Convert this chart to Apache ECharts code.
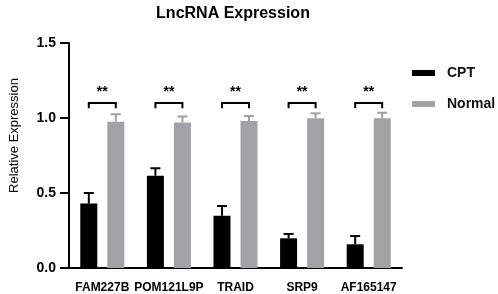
<!DOCTYPE html>
<html>
<head>
<meta charset="utf-8">
<script src="https://cdn.jsdelivr.net/npm/echarts@6/dist/echarts.min.js"></script>
<style>
html,body{margin:0;padding:0;background:#fff;}
#chart{width:498px;height:294px;}
</style>
</head>
<body>
<div id="chart"></div>
<script>
var genes=["FAM227B","POM121L9P","TRAID","SRP9","AF165147"];
var cptMean=[0.43,0.615,0.348,0.198,0.158];
var cptUpper=[0.50,0.665,0.413,0.227,0.213];
var normalMean=[0.975,0.97,0.98,0.998,0.998];
var normalUpper=[1.025,1.01,1.013,1.031,1.035];
var sigLabels=["**","**","**","**","**"];
var bracketTop=1.1;
var bracketLeg=1.065;
var starLevel=1.175;

var font="Liberation Sans, Arial, sans-serif";
var grey="#a2a2a6";
var half=13.5;

var chart=echarts.init(document.getElementById("chart"));

function errorBars(offset,color){
	return function(params,api){
		var p0=api.coord([api.value(0),api.value(1)]);
		var p1=api.coord([api.value(0),api.value(2)]);
		var x=p0[0]+offset;
		return {
			type:"group",
			children:[
				{type:"line",shape:{x1:x,y1:p0[1],x2:x,y2:p1[1]},style:{stroke:color,lineWidth:2}},
				{type:"line",shape:{x1:x-5,y1:p1[1],x2:x+5,y2:p1[1]},style:{stroke:color,lineWidth:2}}
			]
		};
	};
}

function brackets(params,api){
	var c=api.coord([api.value(0),bracketTop]);
	var leg=api.coord([api.value(0),bracketLeg]);
	var s=api.coord([api.value(0),starLevel]);
	return {
		type:"group",
		children:[
			{type:"polyline",shape:{points:[[c[0]-half,leg[1]],[c[0]-half,c[1]],[c[0]+half,c[1]],[c[0]+half,leg[1]]]},
			 style:{stroke:"#000",lineWidth:2,fill:null}},
			{type:"text",style:{text:sigLabels[params.dataIndex],x:c[0],y:s[1],align:"center",verticalAlign:"middle",
			 font:"bold 14px "+font,fill:"#000"}}
		]
	};
}

var option={
	animation:false,
	title:{
		text:"LncRNA Expression",
		left:228,
		textAlign:"center",
		top:1,
		textStyle:{fontFamily:font,fontWeight:"bold",fontSize:16,color:"#000"}
	},
	legend:{
		data:["CPT","Normal"],
		orient:"vertical",
		left:407,
		top:61,
		itemWidth:23,
		itemHeight:6,
		itemGap:17,
		icon:"rect",
		textStyle:{fontFamily:font,fontWeight:"bold",fontSize:14,color:"#111",padding:[0,0,0,7]}
	},
	grid:{left:56,top:43,width:346,height:225},
	xAxis:{
		type:"category",
		data:genes,
		axisLine:{lineStyle:{color:"#000",width:2}},
		axisTick:{alignWithLabel:true,length:9,lineStyle:{color:"#000",width:2}},
		axisLabel:{interval:0,fontFamily:font,fontWeight:"bold",fontSize:12,color:"#000",margin:14}
	},
	yAxis:{
		type:"value",
		min:0,max:1.5,interval:0.5,
		name:"Relative Expression",
		nameLocation:"middle",
		nameRotate:90,
		nameGap:48,
		nameTextStyle:{fontFamily:font,fontSize:13,color:"#000",padding:[0,0,0,40]},
		splitLine:{show:false},
		axisLine:{show:true,lineStyle:{color:"#000",width:2}},
		axisTick:{show:true,length:9,lineStyle:{color:"#000",width:2}},
		axisLabel:{fontFamily:font,fontWeight:"bold",fontSize:14,color:"#000",margin:13,
			formatter:function(v){return v.toFixed(1);}}
	},
	series:[
		{name:"CPT",type:"bar",data:cptMean,barWidth:17,barGap:"59%",itemStyle:{color:"#000"}},
		{name:"Normal",type:"bar",data:normalMean,barWidth:17,itemStyle:{color:grey}},
		{type:"custom",renderItem:errorBars(-half,"#000"),
		 data:genes.map(function(g,i){return [i,cptMean[i],cptUpper[i]];}),z:3},
		{type:"custom",renderItem:errorBars(half,grey),
		 data:genes.map(function(g,i){return [i,normalMean[i],normalUpper[i]];}),z:3},
		{type:"custom",renderItem:brackets,
		 data:genes.map(function(g,i){return [i];}),z:3}
	]
};
chart.setOption(option);
</script>
</body>
</html>
